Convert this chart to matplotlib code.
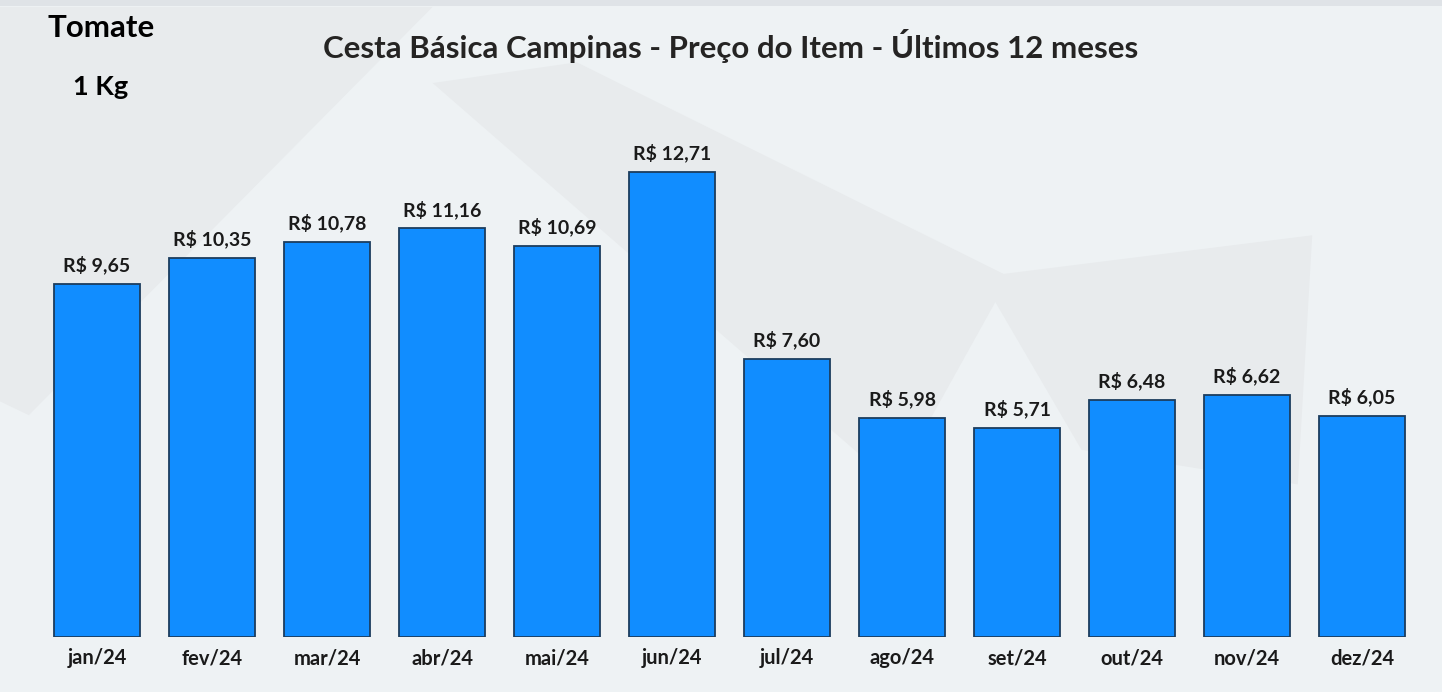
import matplotlib.pyplot as plt
from matplotlib.patches import Polygon, Rectangle

# data
months = ['jan/24', 'fev/24', 'mar/24', 'abr/24', 'mai/24', 'jun/24',
          'jul/24', 'ago/24', 'set/24', 'out/24', 'nov/24', 'dez/24']
prices = [9.65, 10.35, 10.78, 11.16, 10.69, 12.71,
          7.60, 5.98, 5.71, 6.48, 6.62, 6.05]

title = 'Cesta Básica Campinas - Preço do Item - Últimos 12 meses'
item = 'Tomate'
unit = '1 Kg'

plt.rcParams['font.family'] = ['Lato', 'DejaVu Sans']

fig = plt.figure(figsize=(14.42, 6.92), dpi=100)
fig.patch.set_facecolor('#eef2f4')

# faint background shapes (kept behind the axes)
bg_shapes = [
    [(0.0, 0.99), (0.30, 0.99), (0.02, 0.40), (0.0, 0.42)],
    [(0.30, 0.88), (0.40, 0.91), (0.70, 0.60), (0.62, 0.30)],
    [(0.68, 0.60), (0.91, 0.66), (0.90, 0.30), (0.75, 0.35)],
]
for pts in bg_shapes:
    fig.patches.append(Polygon(pts, closed=True, transform=fig.transFigure,
                               facecolor='#e8ebed', edgecolor='none', zorder=-5))
fig.patches.append(Rectangle((0, 0.992), 1, 0.008, transform=fig.transFigure,
                             facecolor='#dfe3e7', edgecolor='none', zorder=-5))

ax = fig.add_axes([0.0274, 0.0795, 0.957, 0.776])
ax.set_facecolor('none')
ax.set_zorder(2)

x = range(len(months))
ax.bar(x, prices, width=0.74, color='#118dff', edgecolor='#1c3d5e',
       linewidth=1.3)

for xi, v in zip(x, prices):
    label = 'R$ ' + f'{v:.2f}'.replace('.', ',')
    ax.annotate(label, (xi, v), xytext=(0, 7), textcoords='offset points',
                ha='center', va='bottom', fontsize=14, fontweight='bold',
                color='#1a1a1a')

ax.set_xlim(-0.5, len(months) - 0.5)
ax.set_ylim(0, 14.67)
ax.set_xticks(list(x))
ax.set_xticklabels(months, fontsize=14.5, fontweight='bold', color='#1a1a1a')
ax.tick_params(axis='x', length=0, pad=8)
ax.set_yticks([])
for s in ax.spines.values():
    s.set_visible(False)

fig.text(0.507, 0.934, title, ha='center', va='center', fontsize=22.5,
         fontweight='bold', color='#252423', zorder=3)
fig.text(0.070, 0.960, item, ha='center', va='center', fontsize=22.5,
         fontweight='bold', color='#000000', zorder=3)
fig.text(0.070, 0.874, unit, ha='center', va='center', fontsize=19.5,
         fontweight='bold', color='#000000', zorder=3)

fig.savefig('out.png', dpi=100, facecolor=fig.get_facecolor())
plt.close(fig)
